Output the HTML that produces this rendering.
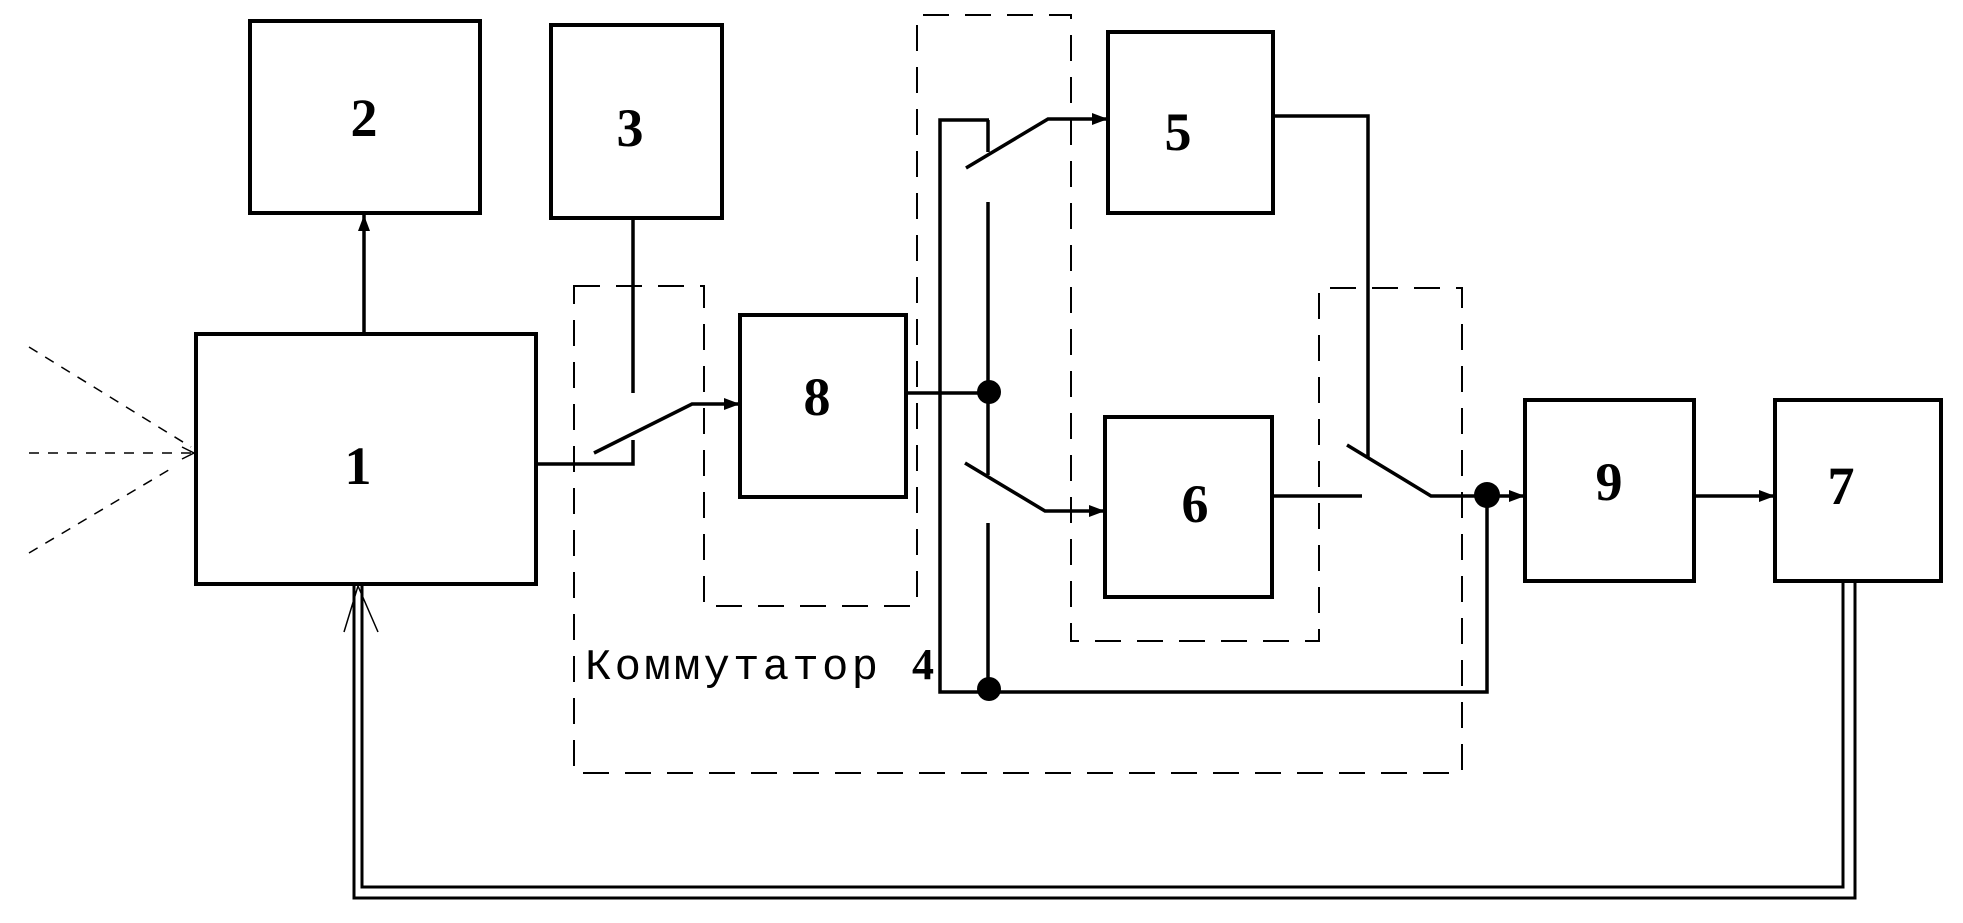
<!DOCTYPE html>
<html><head><meta charset="utf-8"><style>
html,body{margin:0;padding:0;background:#fff;}
svg{display:block;}
.b{font-family:"Liberation Serif",serif;font-weight:bold;font-size:54px;text-anchor:middle;}
</style></head><body>
<svg width="1963" height="923" viewBox="0 0 1963 923" xmlns="http://www.w3.org/2000/svg">
<defs>
<marker id="a" viewBox="0 0 16 12" refX="16" refY="6" markerWidth="16" markerHeight="12" markerUnits="userSpaceOnUse" orient="auto"><path d="M0,0 L16,6 L0,12 z" fill="#000"/></marker>
</defs>
<g fill="none" stroke="#000" stroke-width="2" stroke-dasharray="26,16">
<path d="M574,286 H704 V606 H917 V15 H1071 V641 H1319 V288 H1462 V773 H574 Z"/>
</g>
<g fill="none" stroke="#000" stroke-width="1.5" stroke-dasharray="10,9">
<line x1="29" y1="347" x2="191" y2="447"/>
<line x1="29" y1="453" x2="194" y2="453"/>
<line x1="29" y1="553" x2="172" y2="468"/>
</g>
<path d="M182,447 L194,453 L182,459" fill="none" stroke="#000" stroke-width="1.5"/>
<g fill="#fff" stroke="#000" stroke-width="4">
<rect x="250" y="21" width="230" height="192"/>
<rect x="551" y="25" width="171" height="193"/>
<rect x="196" y="334" width="340" height="250"/>
<rect x="740" y="315" width="166" height="182"/>
<rect x="1108" y="32" width="165" height="181"/>
<rect x="1105" y="417" width="167" height="180"/>
<rect x="1525" y="400" width="169" height="181"/>
<rect x="1775" y="400" width="166" height="181"/>
</g>
<g fill="none" stroke="#000" stroke-width="3.5">
<line x1="364" y1="334" x2="364" y2="215" marker-end="url(#a)"/>
<line x1="633" y1="218" x2="633" y2="393"/>
<path d="M536,464 H633 V440"/>
<path d="M594,453 L692,404 H740" marker-end="url(#a)"/>
<path d="M906,393 H989"/>
<path d="M989,120 H940 V692 H1487 V496"/>
<path d="M988,120 V152"/>
<path d="M966,168 L1048,119 H1108" marker-end="url(#a)"/>
<line x1="988" y1="202" x2="988" y2="475"/>
<path d="M965,463 L1045,511 H1105" marker-end="url(#a)"/>
<line x1="988" y1="523" x2="988" y2="692"/>
<path d="M1273,116 H1368 V457"/>
<path d="M1347,445 L1431,496 H1525" marker-end="url(#a)"/>
<line x1="1272" y1="496" x2="1362" y2="496"/>
<line x1="1694" y1="496" x2="1775" y2="496" marker-end="url(#a)"/>
</g>
<g fill="none" stroke="#000" stroke-width="3">
<path d="M1843,581 V887 H362 V586"/>
<path d="M1855,581 V898 H354 V586"/>
</g>
<path d="M344,632 L358,586 L378,632" fill="none" stroke="#000" stroke-width="1.5"/>
<g fill="#000">
<circle cx="989" cy="392" r="12"/>
<circle cx="989" cy="689" r="12"/>
<circle cx="1487" cy="495" r="13"/>
</g>
<g class="b">
<text x="364" y="136">2</text>
<text x="630" y="146">3</text>
<text x="358" y="484">1</text>
<text x="817" y="415">8</text>
<text x="1178" y="150">5</text>
<text x="1195" y="522">6</text>
<text x="1609" y="500">9</text>
<text x="1841" y="504">7</text>
</g>
<text x="585" y="679" font-family="'Liberation Mono',monospace" font-size="44" letter-spacing="2" textLength="295">Коммутатор</text>
<text x="912" y="679" font-family="'Liberation Serif',serif" font-weight="bold" font-size="44">4</text>
</svg>
</body></html>
